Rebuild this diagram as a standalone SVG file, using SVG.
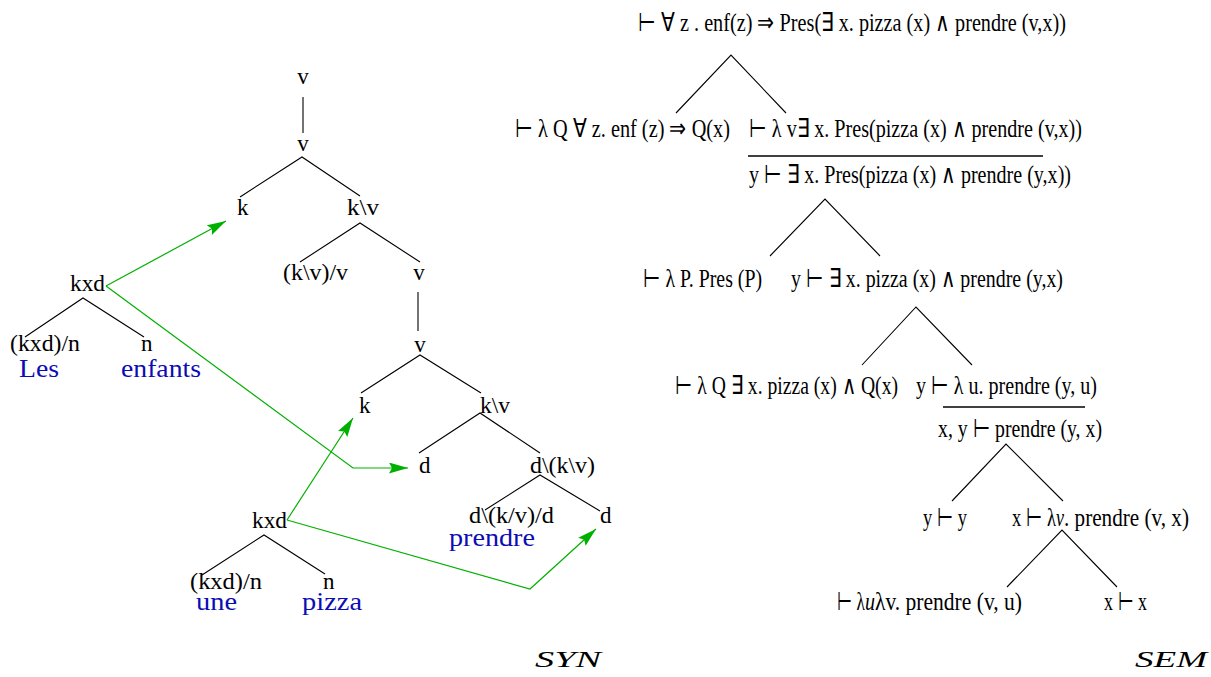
<svg xmlns="http://www.w3.org/2000/svg" width="1211" height="677" viewBox="0 0 1211 677">
<style>
text{font-family:"Liberation Serif","Times New Roman",serif;fill:#000}
.s{font-size:23px}
.w{font-size:26px;fill:#0c0cb4}
.m{font-size:26px}
.i{font-style:italic}
.lbl{font-size:24px;font-style:italic}
.e{stroke:#000;stroke-width:1.1;fill:none}
.g{stroke:#00b000;stroke-width:1.2;fill:none}
.r{stroke:#000;stroke-width:1.4}
</style>
<defs>
<marker id="ah" markerUnits="userSpaceOnUse" markerWidth="20" markerHeight="12" refX="19" refY="5.5" orient="auto">
<path d="M0,0 L19,5.5 L0,11 L3,5.5 z" fill="#00b000"/>
</marker>
</defs>
<rect width="1211" height="677" fill="#fff"/>
<g id="connectors">
<g id="syn-edges">
<path class="e" d="M303,97 L303,133"/>
<path class="e" d="M240,197 L302,157 L360,196"/>
<path class="e" d="M300,262 L360,223 L420,262"/>
<path class="e" d="M418,292 L418,331"/>
<path class="e" d="M361,393 L420,355 L481,393"/>
<path class="e" d="M419,453 L480,413 L540,453"/>
<path class="e" d="M485,510 L540,475 L600,511"/>
<path class="e" d="M25,337 L83,298 L144,337"/>
<path class="e" d="M202,575 L264,535 L325,574"/>
</g>
<g id="arrows">
<path class="g" d="M106,286 L226,221" marker-end="url(#ah)"/>
<path class="g" d="M106,286 L353,468 L408,468" marker-end="url(#ah)"/>
<path class="g" d="M287,520 L353,418" marker-end="url(#ah)"/>
<path class="g" d="M287,520 L530,589 L596,529" marker-end="url(#ah)"/>
</g>
<g id="sem-edges">
<path class="e" d="M676,113 L731,55 L786,113"/>
<path class="e" d="M770,256 L825,199 L880,256"/>
<path class="e" d="M862,365 L916,307 L972,365"/>
<path class="e" d="M952,501 L1006,444 L1063,501"/>
<path class="e" d="M1007,587 L1062,530 L1117,587"/>
<path class="r" d="M748,156 L1043,156"/>
<path class="r" d="M943,407 L1085,407"/>
</g>
</g>
<g id="syn">
<g id="n-v1"><text class="s" x="303" y="84" text-anchor="middle">v</text></g>
<g id="n-v2"><text class="s" x="303" y="151" text-anchor="middle">v</text></g>
<g id="n-k1"><text class="s" x="237" y="215">k</text></g>
<g id="n-kv1"><text class="s" x="347" y="215" textLength="32" lengthAdjust="spacingAndGlyphs">k\v</text></g>
<g id="n-kvv"><text class="s" x="283" y="280" textLength="65" lengthAdjust="spacingAndGlyphs">(k\v)/v</text></g>
<g id="n-v3"><text class="s" x="419" y="280" text-anchor="middle">v</text></g>
<g id="n-v4"><text class="s" x="420" y="352" text-anchor="middle">v</text></g>
<g id="n-k2"><text class="s" x="359" y="413">k</text></g>
<g id="n-kv2"><text class="s" x="480" y="413" textLength="30" lengthAdjust="spacingAndGlyphs">k\v</text></g>
<g id="n-d1"><text class="s" x="419" y="473">d</text></g>
<g id="n-dkv"><text class="s" x="530" y="473" textLength="65" lengthAdjust="spacingAndGlyphs">d\(k\v)</text></g>
<g id="n-dkvd"><text class="s" x="469" y="523" textLength="85" lengthAdjust="spacingAndGlyphs">d\(k/v)/d</text></g>
<g id="n-d2"><text class="s" x="600" y="523">d</text></g>
<g id="w-prendre"><text class="w" x="449" y="546" textLength="86" lengthAdjust="spacingAndGlyphs">prendre</text></g>
<g id="n-kxd1"><text class="s" x="70" y="291" textLength="35" lengthAdjust="spacingAndGlyphs">kxd</text></g>
<g id="n-kxdn1"><text class="s" x="10" y="351" textLength="70" lengthAdjust="spacingAndGlyphs">(kxd)/n</text></g>
<g id="n-n1"><text class="s" x="141" y="351">n</text></g>
<g id="w-les"><text class="w" x="19" y="377" textLength="40" lengthAdjust="spacingAndGlyphs">Les</text></g>
<g id="w-enfants"><text class="w" x="121" y="377" textLength="80" lengthAdjust="spacingAndGlyphs">enfants</text></g>
<g id="n-kxd2"><text class="s" x="252" y="528" textLength="35" lengthAdjust="spacingAndGlyphs">kxd</text></g>
<g id="n-kxdn2"><text class="s" x="190" y="589" textLength="72" lengthAdjust="spacingAndGlyphs">(kxd)/n</text></g>
<g id="n-n2"><text class="s" x="323" y="589">n</text></g>
<g id="w-une"><text class="w" x="196" y="610" textLength="41" lengthAdjust="spacingAndGlyphs">une</text></g>
<g id="w-pizza"><text class="w" x="302" y="610" textLength="60" lengthAdjust="spacingAndGlyphs">pizza</text></g>
<g id="lbl-syn"><text class="lbl" x="535" y="667" textLength="66" lengthAdjust="spacingAndGlyphs">SYN</text></g>
</g>
<g id="sem">
<g id="s1"><text class="m" x="638" y="31" textLength="428" lengthAdjust="spacingAndGlyphs">⊢ ∀ z . enf(z) ⇒ Pres(∃ x. pizza (x) ∧ prendre (v,x))</text></g>
<g id="s2a"><text class="m" x="515" y="137" textLength="215" lengthAdjust="spacingAndGlyphs">⊢ λ Q ∀ z. enf (z) ⇒ Q(x)</text></g>
<g id="s2b"><text class="m" x="749" y="137" textLength="333" lengthAdjust="spacingAndGlyphs">⊢ λ v∃ x. Pres(pizza (x) ∧ prendre (v,x))</text></g>
<g id="s3"><text class="m" x="749" y="183" textLength="322" lengthAdjust="spacingAndGlyphs">y ⊢ ∃ x. Pres(pizza (x) ∧ prendre (y,x))</text></g>
<g id="s4a"><text class="m" x="643" y="287" textLength="119" lengthAdjust="spacingAndGlyphs">⊢ λ P. Pres (P)</text></g>
<g id="s4b"><text class="m" x="791" y="287" textLength="272" lengthAdjust="spacingAndGlyphs">y ⊢ ∃ x. pizza (x) ∧ prendre (y,x)</text></g>
<g id="s5a"><text class="m" x="675" y="394" textLength="223" lengthAdjust="spacingAndGlyphs">⊢ λ Q ∃ x. pizza (x) ∧ Q(x)</text></g>
<g id="s5b"><text class="m" x="916" y="394" textLength="181" lengthAdjust="spacingAndGlyphs">y ⊢ λ u. prendre (y, u)</text></g>
<g id="s6"><text class="m" x="938" y="437" textLength="164" lengthAdjust="spacingAndGlyphs">x, y ⊢ prendre (y, x)</text></g>
<g id="s7a"><text class="m" x="923" y="526" textLength="44" lengthAdjust="spacingAndGlyphs">y ⊢ y</text></g>
<g id="s7b">
<text class="m" x="1012" y="526" textLength="44" lengthAdjust="spacingAndGlyphs">x ⊢ λ</text>
<text class="m i" x="1056" y="526" textLength="8" lengthAdjust="spacingAndGlyphs">v</text>
<text class="m" x="1064" y="526" textLength="125" lengthAdjust="spacingAndGlyphs">. prendre (v, x)</text>
</g>
<g id="s8a">
<text class="m" x="837" y="610" textLength="28" lengthAdjust="spacingAndGlyphs">⊢ λ</text>
<text class="m i" x="865" y="610" textLength="10" lengthAdjust="spacingAndGlyphs">u</text>
<text class="m" x="875" y="610" textLength="147" lengthAdjust="spacingAndGlyphs">λv. prendre (v, u)</text>
</g>
<g id="s8b"><text class="m" x="1104" y="610" textLength="43" lengthAdjust="spacingAndGlyphs">x ⊢ x</text></g>
<g id="lbl-sem"><text class="lbl" x="1135" y="667" textLength="72" lengthAdjust="spacingAndGlyphs">SEM</text></g>
</g>
</svg>
